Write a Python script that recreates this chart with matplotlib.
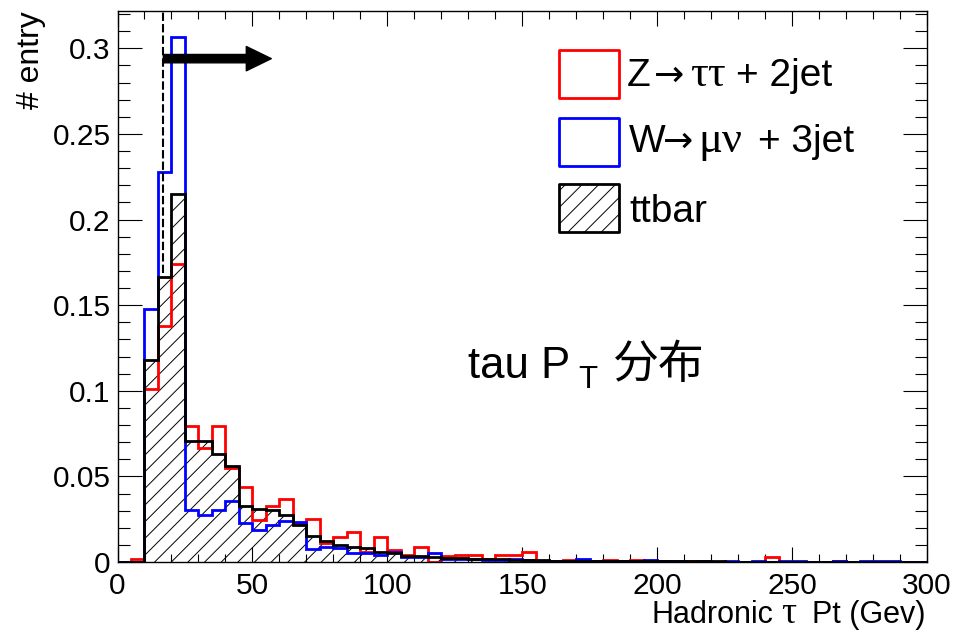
import numpy as np
import matplotlib
matplotlib.use("Agg")
import matplotlib.pyplot as plt
from matplotlib.patches import Rectangle, FancyArrowPatch
from matplotlib.ticker import MultipleLocator, FuncFormatter

# ---------------- data ----------------
bin_edges = np.arange(0, 305, 5)  # 60 bins of 5 GeV

z_tautau_2jet = [
    0.0, 0.0015, 0.101, 0.138, 0.174, 0.0794, 0.0668, 0.0794, 0.055, 0.0438,
    0.0247, 0.0325, 0.037, 0.022, 0.0253, 0.011, 0.0146, 0.0173, 0.0057, 0.0145,
    0.0072, 0.0042, 0.009, 0.0, 0.0033, 0.004, 0.004, 0.002, 0.004, 0.004,
    0.006, 0.0008, 0.0, 0.001, 0.0, 0.0, 0.001, 0.0005, 0.001, 0.0005,
    0.0005, 0.0, 0.0003, 0.0, 0.0, 0.0, 0.0, 0.0, 0.003, 0.0,
    0.0, 0.0, 0.0, 0.0003, 0.0, 0.0, 0.0, 0.0, 0.0, 0.0,
]
w_munu_3jet = [
    0.0, 0.0, 0.148, 0.228, 0.3065, 0.0302, 0.0273, 0.0302, 0.0354, 0.0228,
    0.0185, 0.0214, 0.0239, 0.0233, 0.0075, 0.0088, 0.008, 0.005, 0.005, 0.004,
    0.006, 0.003, 0.003, 0.005, 0.002, 0.0015, 0.0015, 0.001, 0.0012, 0.0015,
    0.001, 0.0008, 0.0005, 0.0008, 0.0016, 0.0005, 0.0005, 0.0005, 0.0003, 0.001,
    0.0003, 0.0003, 0.0, 0.0003, 0.0, 0.0003, 0.0, 0.0003, 0.0, 0.0003,
    0.0003, 0.0, 0.0, 0.0003, 0.0, 0.0008, 0.0008, 0.0003, 0.0, 0.0,
]
ttbar = [
    0.0, 0.0, 0.1178, 0.1664, 0.215, 0.0706, 0.0706, 0.0633, 0.056, 0.0325,
    0.0312, 0.0306, 0.0273, 0.0214, 0.015, 0.012, 0.010, 0.0088, 0.008, 0.006,
    0.005, 0.0035, 0.0035, 0.003, 0.0023, 0.0023, 0.0018, 0.0015, 0.0015, 0.0012,
    0.001, 0.001, 0.0008, 0.0008, 0.0006, 0.0006, 0.0005, 0.0005, 0.0004, 0.0004,
    0.0003, 0.0003, 0.0003, 0.0003, 0.0003, 0.0002, 0.0002, 0.0002, 0.0002, 0.0002,
    0.0002, 0.0002, 0.0001, 0.0001, 0.0001, 0.0001, 0.0001, 0.0001, 0.0, 0.0,
]
series_labels = ["Z\u2192\u03c4\u03c4 + 2jet", "W\u2192\u03bc\u03bd + 3jet", "ttbar"]
pt_cut = 17.0          # dashed cut line (GeV)
arrow_end = 57.0       # arrow tip (GeV)
arrow_level = 0.294    # arrow height

# ---------------- style ----------------
plt.rcParams["font.family"] = ["Liberation Sans", "Noto Sans CJK SC", "DejaVu Sans"]
plt.rcParams["hatch.linewidth"] = 0.7

W, H = 975, 631
fig = plt.figure(figsize=(W / 100, H / 100), dpi=100)
ax_l, ax_r, ax_t, ax_b = 117.5, 927.0, 11.0, 562.0
ax = fig.add_axes([ax_l / W, 1 - ax_b / H, (ax_r - ax_l) / W, (ax_b - ax_t) / H])


def px(x, y):
    return x / W, 1 - y / H


lw = 2.0
ax.stairs(ttbar, bin_edges, fill=True, facecolor="none", edgecolor="black",
          hatch="//", linewidth=0, zorder=1)
ax.stairs(z_tautau_2jet, bin_edges, color="#ff0000", linewidth=lw, zorder=2)
ax.stairs(w_munu_3jet, bin_edges, color="#0000ff", linewidth=lw, zorder=3)
ax.stairs(ttbar, bin_edges, color="black", linewidth=lw, zorder=4)

ax.set_xlim(0, 300)
ax.set_ylim(0, max(w_munu_3jet) * 1.05)

# cut line + arrow
ax.plot([pt_cut, pt_cut], [0.169, ax.get_ylim()[1]], color="black",
        linestyle=(0, (4, 1.5)), linewidth=1.5, zorder=5)
ax.add_patch(FancyArrowPatch((pt_cut, arrow_level), (arrow_end, arrow_level),
                             arrowstyle="simple,head_length=18,head_width=17.5,tail_width=6",
                             mutation_scale=1, color="black", shrinkA=0, shrinkB=0,
                             zorder=6))

# ticks
ax.xaxis.set_major_locator(MultipleLocator(50))
ax.xaxis.set_minor_locator(MultipleLocator(10))
ax.yaxis.set_major_locator(MultipleLocator(0.05))
ax.yaxis.set_minor_locator(MultipleLocator(0.01))
ax.yaxis.set_major_formatter(FuncFormatter(lambda v, p: "%g" % round(v, 3)))
ax.xaxis.set_major_formatter(FuncFormatter(lambda v, p: "%g" % v))
ax.tick_params(axis="both", which="both", direction="in", top=True, right=True,
               width=0.8, labelsize=21.5, colors="black")
ax.tick_params(axis="x", which="major", length=11, pad=7)
ax.tick_params(axis="x", which="minor", length=5.5)
ax.tick_params(axis="y", which="major", length=17, pad=5)
ax.tick_params(axis="y", which="minor", length=8.5)
for s in ax.spines.values():
    s.set_linewidth(1.0)

serif = ["Liberation Serif", "DejaVu Serif"]

# axis titles
fig.text(*px(31, 11), "# entry", rotation=90, ha="center", va="top", fontsize=23)
fig.text(*px(651, 623), "Hadronic", ha="left", va="baseline", fontsize=22)
fig.text(*px(781, 623), "\u03c4", ha="left", va="baseline", fontsize=27, family=serif)
fig.text(*px(925, 623), "Pt (Gev)", ha="right", va="baseline", fontsize=22)

# legend (drawn manually)
box_x, box_w, box_h = 559, 60, 48
rows = [(50, "#ff0000", None), (118, "#0000ff", None), (184, "black", "//")]
for (top, col, hat) in rows:
    fig.patches.append(Rectangle(px(box_x, top + box_h), box_w / W, box_h / H,
                                 transform=fig.transFigure, facecolor="none",
                                 edgecolor=col, linewidth=2.0, hatch=hat,
                                 joinstyle="round"))
fs_leg = 28
arrow_font = ["DejaVu Sans"]
# row 1
fig.text(*px(627, 86), "Z", fontsize=fs_leg, va="baseline")
fig.text(*px(654, 86), "\u2192", fontsize=fs_leg - 2, va="baseline", family=arrow_font)
fig.text(*px(690, 86), "\u03c4\u03c4", fontsize=fs_leg + 4, va="baseline", family=serif)
fig.text(*px(736, 86), "+ 2jet", fontsize=fs_leg, va="baseline")
# row 2
fig.text(*px(629, 152), "W", fontsize=fs_leg, va="baseline")
fig.text(*px(663, 152), "\u2192", fontsize=fs_leg - 2, va="baseline", family=arrow_font)
fig.text(*px(698, 152), "\u03bc\u03bd", fontsize=fs_leg + 4, va="baseline", family=serif)
fig.text(*px(758, 152), "+ 3jet", fontsize=fs_leg, va="baseline")
# row 3
fig.text(*px(629, 222.5), series_labels[2], fontsize=fs_leg, va="baseline")

# annotation text
fig.text(*px(468, 378), "tau P", fontsize=31.5, va="baseline")
fig.text(*px(578, 388), "T", fontsize=22.5, va="baseline")
fig.text(*px(613, 378), "\u5206\u5e03", fontsize=33, va="baseline",
         family=["Noto Sans CJK SC", "DejaVu Sans"])

fig.savefig("out.png", dpi=100)
